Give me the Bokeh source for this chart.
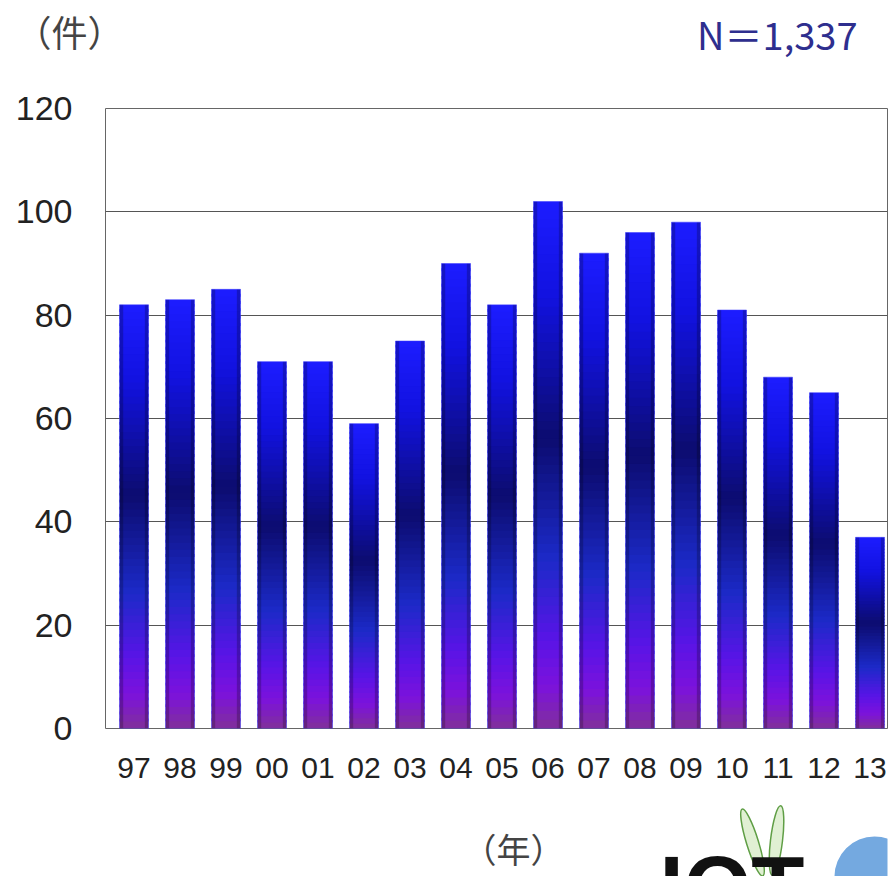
import numpy as np
from bokeh.plotting import figure
from bokeh.models import Range1d, FixedTicker, LinearAxis
from bokeh.layouts import column
from bokeh.core.properties import value
from bokeh.embed import file_html
from bokeh.resources import INLINE

# ---- data ----
years = ["97", "98", "99", "00", "01", "02", "03", "04", "05", "06",
         "07", "08", "09", "10", "11", "12", "13"]
counts = [82, 83, 85, 71, 71, 59, 75, 90, 82, 102, 92, 96, 98, 81, 68, 65, 37]
y_ticks = [0, 20, 40, 60, 80, 100, 120]
unit_label = "（件）"
year_label = "（年）"
total_label = "N＝1,337"
logo_text = "IOT"

W = 889
TOP_H, MAIN_H, BOT_H = 90, 710, 76
FL, FR = 105, 887  # frame left / right in page pixels (shared by all rows)

# ---- styles ----
stops = [(0.00, (0x1c, 0x1c, 0xff)),
         (0.18, (0x12, 0x12, 0xe0)),
         (0.45, (0x0c, 0x0c, 0x70)),
         (0.68, (0x1c, 0x2a, 0xc8)),
         (0.83, (0x58, 0x14, 0xe6)),
         (0.92, (0x7c, 0x12, 0xdc)),
         (1.00, (0x80, 0x30, 0x9a))]


def grad(t):
    for (t0, c0), (t1, c1) in zip(stops[:-1], stops[1:]):
        if t <= t1:
            f = (t - t0) / (t1 - t0) if t1 > t0 else 0
            c = [int(round(a + (b - a) * f)) for a, b in zip(c0, c1)]
            return "#%02x%02x%02x" % tuple(c)
    return "#%02x%02x%02x" % stops[-1][1]


def blank(h):
    f = figure(width=W, height=h, output_backend="svg", toolbar_location=None,
               x_range=Range1d(FL, FR), y_range=Range1d(0, h),
               x_axis_type=None, y_axis_type=None,
               min_border_left=FL, min_border_right=W - FR,
               min_border_top=0, min_border_bottom=0)
    f.outline_line_color = None
    f.background_fill_color = "white"
    f.border_fill_color = "white"
    return f


# ---- top strip ----
top = blank(TOP_H)
unit_axis = LinearAxis(ticker=FixedTicker(ticks=[TOP_H - 30]),
                       major_label_overrides={TOP_H - 30: unit_label})
unit_axis.axis_line_color = None
unit_axis.major_tick_line_color = None
unit_axis.minor_tick_line_color = None
unit_axis.major_label_standoff = -24
unit_axis.major_label_text_font = "Noto Sans CJK JP"
unit_axis.major_label_text_font_size = "36px"
unit_axis.major_label_text_color = "#444444"
top.add_layout(unit_axis, "left")
top.text(x=[857], y=[TOP_H - 33], text=[total_label], text_align="right",
         text_baseline="middle", text_font=value("Noto Sans CJK JP"),
         text_font_size="38px", text_color="#2e2e8e")

# ---- main chart ----
p = figure(width=W, height=MAIN_H, output_backend="svg", toolbar_location=None,
           x_range=Range1d(-0.62, 16.38), y_range=Range1d(0, 120),
           min_border_left=FL, min_border_right=W - FR, min_border_top=18,
           min_border_bottom=72)
p.background_fill_color = "white"
p.border_fill_color = "white"
p.outline_line_color = "#666666"
p.outline_line_width = 1

bw = 0.63
n = 60
L, R, B, T, C = [], [], [], [], []
for i, v in enumerate(counts):
    for j in range(n):
        L.append(i - bw / 2)
        R.append(i + bw / 2)
        B.append(v * j / n)
        T.append(min(v, v * (j + 1.4) / n))
        C.append(grad(1 - (j + 0.5) / n))
p.quad(left=L, right=R, bottom=B, top=T, fill_color=C, line_color=None)

xs = np.arange(len(counts))
p.vbar(x=xs - bw / 2 + 0.04, width=0.08, top=counts, bottom=0,
       fill_color="black", fill_alpha=0.22, line_color=None)
p.vbar(x=xs + bw / 2 - 0.04, width=0.08, top=counts, bottom=0,
       fill_color="black", fill_alpha=0.22, line_color=None)
p.vbar(x=xs, width=bw, top=counts, bottom=0, fill_color=None,
       line_color="#3a3aff", line_alpha=0.5, line_width=1)

p.xaxis.ticker = FixedTicker(ticks=list(range(len(years))))
p.xaxis.major_label_overrides = {i: y for i, y in enumerate(years)}
p.xaxis.major_label_text_font = "Liberation Sans"
p.xaxis.major_label_text_font_size = "30px"
p.xaxis.major_label_text_color = "#222222"
p.xaxis.major_label_standoff = 23
p.xaxis.axis_line_color = None
p.xaxis.major_tick_line_color = None
p.xaxis.minor_tick_line_color = None

p.yaxis.ticker = FixedTicker(ticks=y_ticks)
p.yaxis.major_label_text_font = "Liberation Sans"
p.yaxis.major_label_text_font_size = "34px"
p.yaxis.major_label_text_color = "#222222"
p.yaxis.major_label_standoff = 27
p.yaxis.axis_line_color = None
p.yaxis.major_tick_line_color = None
p.yaxis.minor_tick_line_color = None

p.xgrid.grid_line_color = None
p.ygrid.ticker = FixedTicker(ticks=y_ticks)
p.ygrid.grid_line_color = "#555555"
p.ygrid.grid_line_width = 1

# ---- bottom strip (y measured up from page bottom, 876) ----
bot = blank(BOT_H)
bot.text(x=[513], y=[876 - 848], text=[year_label], text_align="center",
         text_baseline="middle", text_font=value("Noto Sans CJK JP"),
         text_font_size="34px", text_color="#444444")
# logo decoration
bot.scatter(x=[874], y=[0], size=80, marker="circle", fill_color="#74a9e0",
            line_color=None)
bot.ellipse(x=[752, 776], y=[876 - 842, 876 - 840], width=12, height=70,
            angle=[0.3, -0.12], fill_color="#d8ecc8", fill_alpha=0.8,
            line_color="#5f9e45", line_width=1.5)
bot.text(x=[659], y=[876 - 850 + 13], text=[logo_text], text_align="left",
         text_baseline="top", text_font=value("Liberation Sans"),
         text_font_style="bold", text_font_size="87px", text_color="#111111")

layout = column(top, p, bot, spacing=0)
open("out.html", "w").write(file_html(layout, INLINE))
